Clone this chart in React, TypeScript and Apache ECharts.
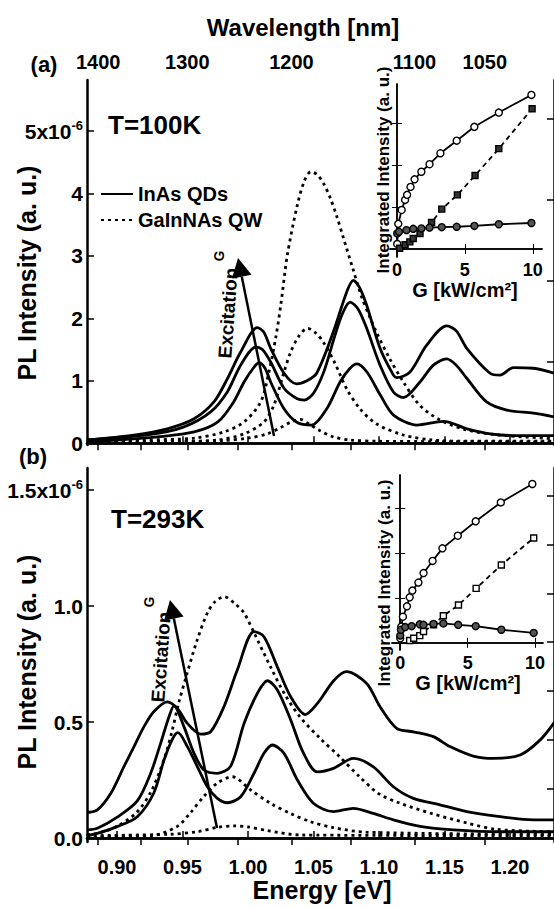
import React, { useEffect, useRef } from 'react';
import * as echarts from 'echarts';

const FONT = "'Liberation Sans Narrow', 'Liberation Sans', Arial, sans-serif";
const HC = 1239.84;

// ---------- tick definitions ----------
const energyTicks = [0.9, 0.95, 1.0, 1.05, 1.1, 1.15, 1.2];
const wavelengthTicks = [1400, 1350, 1300, 1250, 1200, 1150, 1100, 1050];
const wavelengthLabels = [1400, 1300, 1200, 1100, 1050];
const yTicksA = [0, 1, 2, 3, 4, 5];
const yTicksB = [0, 0.5, 1.0, 1.5];
const rightTicksA = [1.3, 2.6, 3.9, 5.2];
const rightTicksB = [0, 0.211, 0.422, 0.633, 0.844, 1.055, 1.266, 1.477];
const insetTicksX = [0, 5, 10];
const insetTicksY = [0, 1, 2, 3];

// ---------- panel (a) T=100K : [energy eV, PL x1e-6] ----------
const qdA1 = [[0.877,0.03],[0.9,0.05],[0.931,0.1],[0.959,0.18],[0.977,0.34],[0.989,0.66],[0.997,0.98],[1.004,1.2],[1.0084,1.29],[1.013,1.2],[1.0173,0.98],[1.0275,0.55],[1.0376,0.33],[1.0486,0.29],[1.0601,0.55],[1.0703,0.98],[1.0779,1.2],[1.0832,1.27],[1.0908,1.14],[1.101,0.77],[1.1111,0.45],[1.129,0.29],[1.1493,0.35],[1.1672,0.23],[1.185,0.15],[1.2053,0.12],[1.234,0.12]];
const qdA2 = [[0.877,0.05],[0.9257,0.14],[0.9511,0.26],[0.9715,0.5],[0.9842,0.82],[0.9944,1.25],[1.0059,1.54],[1.011,1.5],[1.0173,1.3],[1.0275,0.88],[1.0376,0.71],[1.043,0.69],[1.05,0.8],[1.058,1.15],[1.066,1.7],[1.072,2.07],[1.0779,2.26],[1.084,2.15],[1.0906,1.84],[1.1008,1.25],[1.111,0.82],[1.1186,0.73],[1.1313,0.98],[1.1415,1.25],[1.1517,1.35],[1.159,1.25],[1.167,1.04],[1.1822,0.66],[1.1975,0.53],[1.2178,0.48],[1.234,0.42]];
const qdA3 = [[0.877,0.05],[0.913,0.13],[0.9384,0.23],[0.9588,0.39],[0.974,0.66],[0.9842,1.03],[0.9944,1.46],[1.0071,1.85],[1.012,1.78],[1.0173,1.52],[1.0275,1.12],[1.037,0.95],[1.045,1.0],[1.0524,1.12],[1.0651,1.78],[1.0753,2.42],[1.0804,2.61],[1.085,2.5],[1.0906,2.21],[1.1008,1.52],[1.111,1.09],[1.1135,1.05],[1.1237,1.14],[1.1364,1.57],[1.1517,1.88],[1.159,1.8],[1.167,1.52],[1.1848,1.12],[1.1924,1.09],[1.2026,1.21],[1.2178,1.2],[1.234,1.12]];
const qwA1 = [[0.877,0.01],[0.95,0.02],[0.98,0.04],[1.0,0.08],[1.015,0.15],[1.025,0.25],[1.033,0.34],[1.04,0.38],[1.047,0.3],[1.055,0.2],[1.065,0.1],[1.078,0.05],[1.1,0.03],[1.234,0.02]];
const qwA2 = [[0.877,0.02],[0.95,0.03],[0.9766,0.05],[0.997,0.15],[1.0122,0.34],[1.0198,0.61],[1.0275,1.14],[1.0326,1.46],[1.039,1.72],[1.0455,1.84],[1.052,1.76],[1.0575,1.62],[1.0664,1.28],[1.0753,0.87],[1.0855,0.55],[1.098,0.31],[1.1186,0.13],[1.141,0.05],[1.17,0.03],[1.234,0.03]];
const qwA3 = [[0.877,0.03],[0.92,0.05],[0.9588,0.08],[0.9817,0.18],[0.997,0.34],[1.0097,0.66],[1.016,1.14],[1.0211,1.68],[1.025,2.21],[1.03,3.01],[1.0376,3.81],[1.043,4.2],[1.048,4.35],[1.053,4.3],[1.058,4.15],[1.063,3.92],[1.068,3.62],[1.0727,3.3],[1.08,2.8],[1.087,2.33],[1.093,2.02],[1.098,1.78],[1.108,1.36],[1.1186,0.98],[1.131,0.61],[1.1466,0.37],[1.167,0.21],[1.192,0.13],[1.234,0.07]];

// ---------- panel (b) T=293K ----------
const qdB1 = [[0.877,0.01],[0.885,0.02],[0.9,0.049],[0.9155,0.092],[0.928,0.193],[0.9359,0.336],[0.9422,0.425],[0.9465,0.454],[0.9537,0.394],[0.9613,0.308],[0.969,0.221],[0.9766,0.171],[0.9842,0.152],[0.9944,0.178],[1.0046,0.279],[1.0122,0.365],[1.0186,0.401],[1.0275,0.365],[1.0377,0.25],[1.0499,0.15],[1.0652,0.114],[1.0804,0.128],[1.0957,0.106],[1.111,0.078],[1.1313,0.05],[1.1568,0.035],[1.1924,0.027],[1.234,0.027]];
const qdB2 = [[0.877,0.035],[0.885,0.042],[0.9002,0.09],[0.9155,0.16],[0.9257,0.279],[0.9333,0.408],[0.9397,0.523],[0.9435,0.57],[0.9511,0.48],[0.9588,0.365],[0.9664,0.293],[0.9766,0.279],[0.9868,0.31],[0.997,0.494],[1.0071,0.623],[1.0148,0.678],[1.0224,0.638],[1.0326,0.509],[1.042,0.37],[1.053,0.285],[1.0652,0.3],[1.0804,0.343],[1.0957,0.307],[1.111,0.221],[1.1262,0.171],[1.1466,0.143],[1.167,0.114],[1.1924,0.092],[1.2178,0.078],[1.234,0.078]];
const qdB3 = [[0.877,0.11],[0.885,0.121],[0.8953,0.193],[0.9053,0.308],[0.913,0.394],[0.9206,0.48],[0.9282,0.545],[0.9384,0.587],[0.9461,0.558],[0.9537,0.494],[0.9639,0.448],[0.9715,0.458],[0.9817,0.567],[0.9919,0.725],[1.0046,0.89],[1.0122,0.868],[1.0224,0.738],[1.0326,0.609],[1.0438,0.532],[1.053,0.58],[1.0657,0.68],[1.0753,0.717],[1.0906,0.666],[1.1008,0.566],[1.1135,0.473],[1.1262,0.458],[1.1415,0.437],[1.1542,0.394],[1.172,0.353],[1.1873,0.343],[1.2077,0.358],[1.2229,0.422],[1.234,0.5]];
const qwB1 = [[0.877,0.01],[0.94,0.016],[0.9613,0.027],[0.9766,0.046],[0.9893,0.052],[1.0,0.048],[1.0148,0.032],[1.0402,0.013],[1.234,0.01]];
const qwB2 = [[0.877,0.005],[0.926,0.01],[0.946,0.05],[0.9562,0.11],[0.9664,0.18],[0.9766,0.237],[0.988,0.264],[1.0021,0.207],[1.0173,0.149],[1.0326,0.105],[1.0479,0.07],[1.065,0.045],[1.09,0.025],[1.234,0.015]];
const qwB3 = [[0.877,0.015],[0.885,0.02],[0.9,0.05],[0.915,0.11],[0.926,0.2],[0.936,0.34],[0.942,0.46],[0.947,0.58],[0.953,0.7],[0.961,0.85],[0.969,0.97],[0.975,1.02],[0.982,1.04],[0.99,1.01],[0.997,0.97],[1.005,0.88],[1.017,0.74],[1.028,0.62],[1.04,0.52],[1.055,0.43],[1.07,0.35],[1.085,0.265],[1.1,0.19],[1.116,0.15],[1.14,0.106],[1.167,0.065],[1.19,0.037],[1.234,0.027]];

// ---------- insets: [G kW/cm2, integrated intensity a.u.] ----------
const insetA1 = [[0.02,0.12],[0.1,0.6],[0.35,0.93],[0.6,1.17],[0.75,1.29],[1.0,1.48],[1.3,1.66],[1.8,1.84],[2.4,2.02],[3.2,2.28],[4.4,2.58],[5.7,2.91],[7.5,3.25],[9.9,3.67]];
const insetA2 = [[0.2,0.02],[0.6,0.1],[0.95,0.17],[1.2,0.25],[1.7,0.37],[2.55,0.63],[3.3,0.95],[4.45,1.29],[5.75,1.75],[7.5,2.39],[9.95,3.34]];
const insetA3 = [[0.02,0.37],[0.15,0.41],[0.7,0.45],[1.2,0.48],[1.8,0.49],[2.4,0.51],[3.3,0.52],[4.4,0.53],[5.7,0.55],[7.5,0.59],[9.9,0.62]];
const insetB1 = [[0.0,0.1],[0.08,0.36],[0.2,0.58],[0.5,0.81],[0.7,1.01],[0.9,1.16],[1.35,1.34],[1.73,1.55],[2.4,1.82],[3.13,2.1],[4.27,2.38],[5.6,2.7],[7.46,3.12],[9.8,3.53]];
const insetB2 = [[0.7,0.05],[1.0,0.1],[1.45,0.16],[1.73,0.25],[2.47,0.4],[3.2,0.6],[4.32,0.84],[5.63,1.21],[7.5,1.73],[9.9,2.33]];
const insetB3 = [[0.0,0.16],[0.05,0.29],[0.37,0.35],[0.85,0.37],[1.45,0.41],[1.73,0.4],[2.47,0.42],[3.2,0.43],[4.3,0.4],[5.6,0.37],[7.5,0.29],[9.9,0.22]];

const E_MIN = 0.8771;
const E_MAX = 1.2336;

function App() {
  const ref = useRef<HTMLDivElement>(null);
  useEffect(() => {
    if (!ref.current) return;
    const chart = echarts.init(ref.current, undefined, { renderer: 'svg' });
    const lbl = (size: number) => ({ fontFamily: FONT, fontWeight: 'bold' as const, fontSize: size, color: '#000' });
    const axisLineMain = { show: true, lineStyle: { color: '#000', width: 2.5 } };
    const axisLineInset = { show: true, lineStyle: { color: '#000', width: 1.5 } };

    const energyAxis = (grid: number, position: 'top' | 'bottom', showLabels: boolean, wl: boolean) => ({
      type: 'value', gridIndex: grid, position, min: E_MIN, max: E_MAX,
      axisLine: axisLineMain,
      splitLine: { show: false },
      axisTick: { show: true, inside: true, length: 7, lineStyle: { color: '#000', width: 1.5 },
        customValues: wl ? wavelengthTicks.map((l) => HC / l) : energyTicks },
      axisLabel: { show: showLabels, margin: wl ? 8 : 15, ...lbl(20),
        customValues: wl ? wavelengthLabels.map((l) => HC / l) : energyTicks,
        formatter: (v: number) => (wl ? String(Math.round(HC / v)) : v.toFixed(2)) },
    });

    const yMain = (grid: number, min: number, max: number, ticks: number[], fmt: (v: number) => string) => ({
      type: 'value', gridIndex: grid, position: 'left', min, max,
      axisLine: axisLineMain, splitLine: { show: false },
      axisTick: { show: true, inside: true, length: 7, lineStyle: { color: '#000', width: 1.5 }, customValues: ticks },
      axisLabel: { show: true, margin: 4, customValues: ticks, formatter: fmt, ...lbl(21),
        rich: {
          m: { ...lbl(21), lineHeight: 24 },
          s: { ...lbl(13), lineHeight: 13, verticalAlign: 'top' },
        } },
    });
    const yRight = (grid: number, min: number, max: number, ticks: number[], lw: number) => ({
      type: 'value', gridIndex: grid, position: 'right', min, max,
      axisLine: { show: true, lineStyle: { color: '#000', width: lw } }, splitLine: { show: false },
      axisTick: { show: true, inside: true, length: 7, lineStyle: { color: '#000', width: 1.5 }, customValues: ticks },
      axisLabel: { show: false },
    });
    const insetX = (grid: number, position: 'top' | 'bottom', min: number, max: number) => ({
      type: 'value', gridIndex: grid, position, min, max,
      axisLine: axisLineInset, splitLine: { show: false },
      axisTick: { show: true, inside: true, length: 5, lineStyle: { color: '#000', width: 1 }, customValues: insetTicksX },
      axisLabel: { show: position === 'bottom', margin: 4, customValues: insetTicksX, ...lbl(18) },
    });
    const insetY = (grid: number, position: 'left' | 'right', min: number, max: number) => ({
      type: 'value', gridIndex: grid, position, min, max,
      axisLine: axisLineInset, splitLine: { show: false },
      axisTick: { show: true, inside: true, length: 5, lineStyle: { color: '#000', width: 1 }, customValues: insetTicksY },
      axisLabel: { show: false },
    });

    const curve = (name: string, data: number[][], xi: number, yi: number, dotted: boolean) => ({
      type: 'line', name, data, xAxisIndex: xi, yAxisIndex: yi, showSymbol: false, symbol: 'none',
      smooth: 0.3, silent: true, z: dotted ? 2 : 3,
      lineStyle: { color: '#000', width: 2.8, type: dotted ? [3, 4] : 'solid' },
      itemStyle: { color: '#000' },
    });
    const insetSeries = (name: string, data: number[][], xi: number, yi: number, dashed: boolean, symbol: string, fill: string) => ({
      type: 'line', name, data, xAxisIndex: xi, yAxisIndex: yi, symbol, symbolSize: symbol === 'rect' ? 6 : 7,
      showSymbol: true, silent: true, z: 5,
      lineStyle: { color: '#000', width: 1.8, type: dashed ? [5, 4] : 'solid' },
      itemStyle: { color: fill, borderColor: '#000', borderWidth: 1.4 },
    });

    const arrow = (x1: number, y1: number, x2: number, y2: number) => {
      const dx = x2 - x1, dy = y2 - y1;
      const L = Math.sqrt(dx * dx + dy * dy);
      const ux = dx / L, uy = dy / L;
      const bx = x2 - 19 * ux, by = y2 - 19 * uy;
      const px = -uy, py = ux;
      return [
        { type: 'line', shape: { x1, y1, x2: bx, y2: by }, style: { stroke: '#000', lineWidth: 2.5 }, z: 20 },
        { type: 'polygon', shape: { points: [[x2, y2], [bx + 10 * px, by + 10 * py], [bx - 10 * px, by - 10 * py]] }, style: { fill: '#000' }, z: 20 },
      ];
    };
    const txt = (text: string, x: number, y: number, size: number, rotation = 0, align = 'center') => ({
      type: 'text', x, y, rotation, z: 30,
      style: { text, font: `bold ${size}px ${FONT}`, fill: '#000', textAlign: align, textVerticalAlign: 'middle', align, verticalAlign: 'middle' },
    });

    const option: any = {
      animation: false,
      backgroundColor: '#fff',
      grid: [
        { left: 87, top: 80, width: 467, height: 365 },
        { left: 87, top: 468, width: 467, height: 374 },
        { left: 390, top: 84, width: 152, height: 173, show: true, backgroundColor: '#fff', borderWidth: 0 },
        { left: 392, top: 475, width: 151, height: 175, show: true, backgroundColor: '#fff', borderWidth: 0 },
      ],
      xAxis: [
        energyAxis(0, 'bottom', false, false),
        energyAxis(0, 'top', true, true),
        energyAxis(1, 'bottom', true, false),
        energyAxis(1, 'top', false, true),
        insetX(2, 'bottom', -0.51, 10.68),
        insetX(2, 'top', -0.51, 10.68),
        insetX(3, 'bottom', -0.61, 10.59),
        insetX(3, 'top', -0.61, 10.59),
      ],
      yAxis: [
        yMain(0, -0.03, 5.82, yTicksA, (v: number) => (Math.abs(v - 5) < 1e-6 ? '{m|5x10}{s|-6}' : String(Math.round(v)))),
        yRight(0, -0.03, 5.82, rightTicksA, 2.5),
        yMain(1, -0.0172, 1.595, yTicksB, (v: number) => (Math.abs(v - 1.5) < 1e-6 ? '{m|1.5x10}{s|-6}' : v.toFixed(1))),
        yRight(1, -0.0172, 1.595, rightTicksB, 2.5),
        insetY(2, 'left', -0.19, 3.93),
        insetY(2, 'right', -0.19, 3.93),
        insetY(3, 'left', -0.16, 3.73),
        insetY(3, 'right', -0.16, 3.73),
      ],
      legend: {
        data: ['InAs QDs', 'GaInNAs QW'], orient: 'vertical', left: 95, top: 179,
        itemWidth: 32, itemHeight: 14, itemGap: 6, selectedMode: false,
        itemStyle: { opacity: 0 },
        textStyle: { ...lbl(20) },
      },
      series: [
        curve('GaInNAs QW', qwA1, 0, 0, true),
        curve('GaInNAs QW', qwA2, 0, 0, true),
        curve('GaInNAs QW', qwA3, 0, 0, true),
        curve('InAs QDs', qdA1, 0, 0, false),
        curve('InAs QDs', qdA2, 0, 0, false),
        curve('InAs QDs', qdA3, 0, 0, false),
        curve('GaInNAs QW', qwB1, 2, 2, true),
        curve('GaInNAs QW', qwB2, 2, 2, true),
        curve('GaInNAs QW', qwB3, 2, 2, true),
        curve('InAs QDs', qdB1, 2, 2, false),
        curve('InAs QDs', qdB2, 2, 2, false),
        curve('InAs QDs', qdB3, 2, 2, false),
        insetSeries('insetA1', insetA1, 4, 4, false, 'circle', '#fff'),
        insetSeries('insetA2', insetA2, 4, 4, true, 'rect', '#333'),
        insetSeries('insetA3', insetA3, 4, 4, false, 'circle', '#555'),
        insetSeries('insetB1', insetB1, 6, 6, false, 'circle', '#fff'),
        insetSeries('insetB2', insetB2, 6, 6, true, 'rect', '#fff'),
        insetSeries('insetB3', insetB3, 6, 6, false, 'circle', '#555'),
      ],
      graphic: [
        txt('Wavelength [nm]', 303, 27, 24),
        txt('(a)', 44, 64, 22),
        txt('(b)', 33, 456, 22),
        txt('T=100K', 108, 125, 26, 0, 'left'),
        txt('T=293K', 111, 519, 26, 0, 'left'),
        txt('PL Intensity (a. u.)', 27, 273, 25, Math.PI / 2),
        txt('PL Intensity (a. u.)', 27, 662, 25, Math.PI / 2),
        txt('Energy [eV]', 322, 890, 25),
        txt('Integrated Intensity (a. u.)', 383, 170, 17, Math.PI / 2),
        txt('Integrated Intensity (a. u.)', 384, 583, 17, Math.PI / 2),
        txt('G [kW/cm²]', 465, 290, 20),
        txt('G [kW/cm²]', 468, 683, 20),
        txt('Excitation', 228, 313, 19, 1.5),
        txt('G', 219, 256, 14, 1.5),
        txt('Excitation', 161, 657, 19, 1.5),
        txt('G', 149, 602, 14, 1.5),
        ...arrow(274, 436, 238, 258),
        ...arrow(217, 828, 170, 600),
      ],
    };
    chart.setOption(option);
    return () => chart.dispose();
  }, []);
  return <div ref={ref} style={{ position: 'fixed', left: 0, top: 0, width: 554, height: 907, background: '#fff' }} />;
}

export default App;
